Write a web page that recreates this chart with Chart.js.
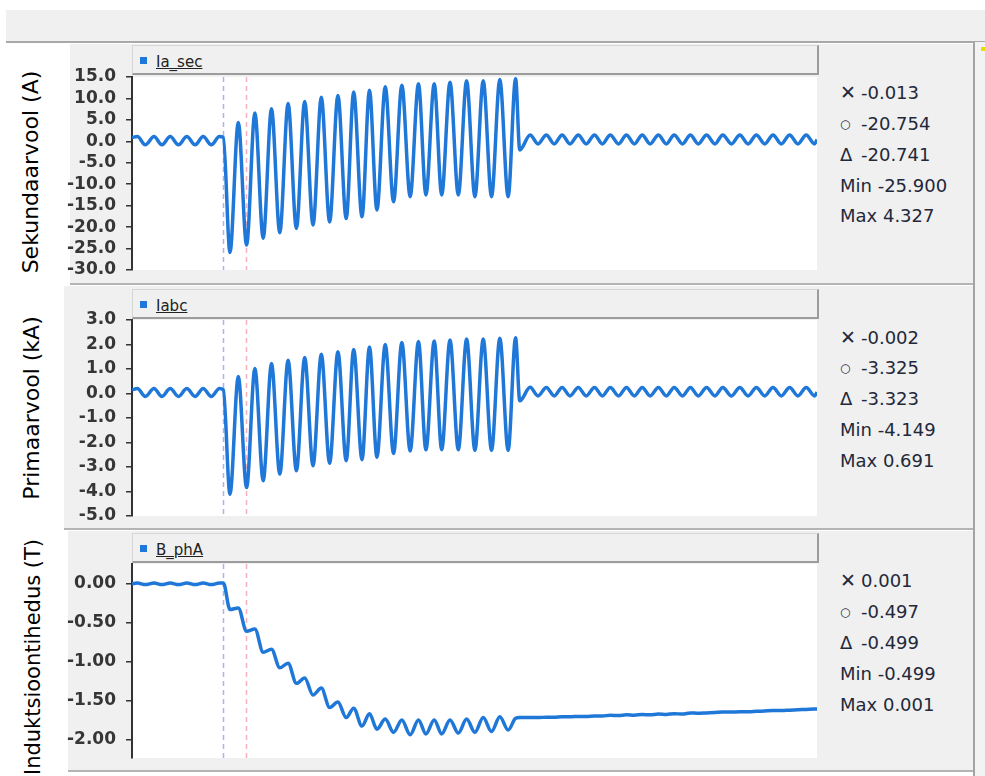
<!DOCTYPE html>
<html>
<head>
<meta charset="utf-8">
<script src="https://cdn.jsdelivr.net/npm/chart.js@4.4.1/dist/chart.umd.min.js"></script>
<style>
  html, body { margin: 0; padding: 0; }
  body { width: 985px; height: 776px; position: relative; overflow: hidden; background: #fff; font-family: "DejaVu Sans", Verdana, sans-serif; }
  .abs { position: absolute; }
  #topbar { left: 6px; top: 10px; width: 979px; height: 31px; background: #f0f0f0; border-bottom: 2px solid #a9a9a9; }
  .panel { position: absolute; background: #f0f0f0; border-bottom: 2px solid #b4b4b4; }
  .hdr { position: absolute; background: #f0f0f0; border-top: 1px solid #d6d6d6; border-left: 1px solid #d6d6d6; border-right: 2px solid #9c9c9c; border-bottom: 2px solid #9c9c9c; box-sizing: border-box; }
  .sq { position: absolute; width: 7px; height: 7px; background: #1e78dc; }
  .lbl { position: absolute; font-size: 15px; color: #222; text-decoration: underline; white-space: nowrap; line-height: 18px; }
  .ytitle { position: absolute; font-size: 22px; color: #000; white-space: nowrap; transform: translate(-50%, -50%) rotate(-90deg); }
  .stat { position: absolute; font-size: 18px; color: #23283a; white-space: nowrap; line-height: 20px; height: 20px; }
  .sym { display: inline-block; width: 21px; }
  canvas { position: absolute; }
</style>
</head>
<body>
<div id="topbar" class="abs"></div>
<div class="abs" style="left:973px;top:42px;width:2px;height:734px;background:#a4a4a4;"></div>
<div class="abs" style="left:975px;top:42px;width:10px;height:734px;background:#f3f3f3;"></div>
<div class="abs" style="left:981px;top:47px;width:4px;height:4px;background:#e8dc00;"></div>

<div class="panel" style="left:70px;top:44px;width:903px;height:239px;"></div>
<div class="panel" style="left:64px;top:286px;width:909px;height:242px;"></div>
<div class="panel" style="left:68px;top:531px;width:905px;height:239px;"></div>

<div class="hdr" style="left:132px;top:45px;width:687px;height:30px;"></div>
<div class="sq" style="left:140px;top:57px;"></div>
<div class="lbl" style="left:156px;top:53px;" id="name1"></div>

<div class="hdr" style="left:132px;top:289px;width:687px;height:30px;"></div>
<div class="sq" style="left:140px;top:301px;"></div>
<div class="lbl" style="left:156px;top:297px;" id="name2"></div>

<div class="hdr" style="left:132px;top:533px;width:687px;height:30px;"></div>
<div class="sq" style="left:140px;top:545px;"></div>
<div class="lbl" style="left:156px;top:541px;" id="name3"></div>

<div class="ytitle" style="left:30px;top:172px;" id="t1"></div>
<div class="ytitle" style="left:31px;top:408px;" id="t2"></div>
<div class="ytitle" style="left:33px;top:657px;font-size:21px;" id="t3"></div>

<canvas id="c1" width="752" height="237" style="left:66px;top:55px;"></canvas>
<canvas id="c2" width="752" height="240" style="left:66px;top:298px;"></canvas>
<canvas id="c3" width="752" height="238" style="left:66px;top:542px;"></canvas>

<div id="stats"></div>

<script>
// ---------- data ----------
const panelNames = ['Ia_sec', 'Iabc', 'B_phA'];
const axisTitles = ['Sekundaarvool (A)', 'Primaarvool (kA)', 'Induktsioontihedus (T)'];

// time (ms) of each sample (extremes of the 50 Hz waveform)
const timeMs = [0, 6.5, 16, 26.5, 36, 46, 56, 66, 76, 85.7, 95.5, 105.3, 110,
  118, 128, 138, 148, 158, 168, 178, 188, 198, 208, 218, 228, 238, 248, 258, 267, 277, 286, 295, 305,
  315, 325, 335, 345, 354, 364, 373, 383, 393, 403, 413, 423, 433, 443, 453, 462,
  467,
  479.5, 489, 499, 508.5, 518, 527.5, 537.5, 547, 557, 566.5, 576, 586, 595.5, 605, 614.5, 624,
  634, 643.5, 653, 663, 672.5, 682, 692, 702, 711.5, 722, 732, 742, 752, 762, 772, 782, 792, 802, 812, 822, 825];

const iaSec = [0.9, 1.1, -0.8, 1.1, -0.8, 1.1, -0.8, 1.1, -0.8, 1.1, -0.8, 1.1, 0.9,
  -25.9, 4.4, -24.2, 6.6, -22.6, 7.6, -21.3, 8.8, -20.3, 9.3, -19.5, 10.3, -18.8, 10.7, -18.0, 11.5, -17.6, 11.9, -16.0, 12.7,
  -14.1, 13.1, -12.9, 13.4, -12.5, 13.4, -12.5, 13.8, -12.5, 14.1, -12.9, 14.1, -12.9, 14.4, -12.9, 14.6,
  -2.0,
  1.5, -0.6, 1.5, -0.6, 1.5, -0.6, 1.5, -0.6, 1.5, -0.6, 1.5, -0.6, 1.5, -0.6, 1.5, -0.6,
  1.5, -0.6, 1.5, -0.6, 1.5, -0.6, 1.5, -0.6, 1.5, -0.6, 1.5, -0.6, 1.5, -0.6, 1.5, -0.6, 1.5, -0.6, 1.5, -0.6, 0.4];

const iabc = [0.15, 0.2, -0.12, 0.2, -0.12, 0.2, -0.12, 0.2, -0.12, 0.2, -0.12, 0.2, 0.15,
  -4.11, 0.69, -3.84, 1.02, -3.56, 1.22, -3.29, 1.36, -3.15, 1.47, -2.95, 1.6, -2.85, 1.7, -2.74, 1.8, -2.7, 1.9, -2.6, 2.0,
  -2.45, 2.08, -2.35, 2.12, -2.3, 2.14, -2.3, 2.18, -2.3, 2.22, -2.32, 2.22, -2.32, 2.26, -2.32, 2.28,
  -0.3,
  0.25, -0.1, 0.25, -0.1, 0.25, -0.1, 0.25, -0.1, 0.25, -0.1, 0.25, -0.1, 0.25, -0.1, 0.25, -0.1,
  0.25, -0.1, 0.25, -0.1, 0.25, -0.1, 0.25, -0.1, 0.25, -0.1, 0.25, -0.1, 0.25, -0.1, 0.25, -0.1, 0.25, -0.1, 0.25, -0.1, 0.05];

const bPhA = [0.0, 0.01, -0.01, 0.01, -0.01, 0.01, -0.01, 0.01, -0.01, 0.01, -0.01, 0.01, 0.01,
  -0.33, -0.31, -0.61, -0.58, -0.88, -0.84, -1.08, -1.02, -1.28, -1.21, -1.43, -1.34, -1.59, -1.52, -1.72, -1.60, -1.83, -1.67, -1.87, -1.74,
  -1.91, -1.75, -1.94, -1.75, -1.93, -1.75, -1.93, -1.75, -1.92, -1.74, -1.91, -1.72, -1.90, -1.71, -1.88, -1.73,
  -1.72,
  -1.72, -1.72, -1.715, -1.715, -1.71, -1.71, -1.705, -1.705, -1.70, -1.70, -1.69, -1.695, -1.685, -1.69, -1.68, -1.685,
  -1.675, -1.68, -1.67, -1.675, -1.66, -1.665, -1.66, -1.655, -1.65, -1.65, -1.645, -1.645, -1.64, -1.635, -1.63, -1.63, -1.625, -1.62, -1.615, -1.61, -1.61];

// y-axis ticks
const ticksSec = [15, 10, 5, 0, -5, -10, -15, -20, -25, -30];
const ticksPrim = [3, 2, 1, 0, -1, -2, -3, -4, -5];
const ticksB = [0, -0.5, -1.0, -1.5, -2.0];

// cursor positions (ms)
const cursorTimes = [110, 137.5];

// cursor readouts
const statsSec = ['-0.013', '-20.754', '-20.741', '-25.900', '4.327'];
const statsPrim = ['-0.002', '-3.325', '-3.323', '-4.149', '0.691'];
const statsB = ['0.001', '-0.497', '-0.499', '-0.499', '0.001'];

// ---------- text ----------
['name1', 'name2', 'name3'].forEach((id, i) => document.getElementById(id).textContent = panelNames[i]);
['t1', 't2', 't3'].forEach((id, i) => document.getElementById(id).textContent = axisTitles[i]);

const statBox = document.getElementById('stats');
function addStats(vals, centers) {
  const syms = ['✕', '○', 'Δ'];
  vals.forEach((v, i) => {
    const d = document.createElement('div');
    d.className = 'stat';
    d.style.left = '840px';
    d.style.top = (centers[i] - 10) + 'px';
    if (i < 3) {
      const s = document.createElement('span');
      s.className = 'sym';
      s.textContent = syms[i];
      if (i === 0) { s.style.fontSize = '19px'; }
      if (i === 1) { s.style.fontSize = '12px'; s.style.fontWeight = 'bold'; s.style.verticalAlign = '2px'; }
      d.appendChild(s);
      d.appendChild(document.createTextNode(v));
    } else {
      d.textContent = (i === 3 ? 'Min ' : 'Max ') + v;
    }
    statBox.appendChild(d);
  });
}
addStats(statsSec, [92, 124, 155, 186, 216]);
addStats(statsPrim, [337, 368, 399, 430, 461]);
addStats(statsB, [580, 612, 643, 674, 705]);

// ---------- charts ----------
const LINE = '#1f77d8';

const bgPlugin = {
  id: 'plotbg',
  beforeDraw(chart) {
    const a = chart.chartArea, c = chart.ctx;
    c.save(); c.fillStyle = '#ffffff';
    c.fillRect(a.left, a.top, a.right - a.left, a.bottom - a.top);
    c.restore();
  }
};
const cursorPlugin = {
  id: 'cursors',
  beforeDatasetsDraw(chart) {
    const a = chart.chartArea, c = chart.ctx, xs = chart.scales.x;
    const cols = ['#aab3f2', '#f5b1bb'];
    c.save();
    c.lineWidth = 1.5;
    c.setLineDash([5, 4]);
    cursorTimes.forEach((t, i) => {
      const px = Math.round(xs.getPixelForValue(t)) + 0.5;
      c.strokeStyle = cols[i];
      c.beginPath(); c.moveTo(px, a.top); c.lineTo(px, a.bottom); c.stroke();
    });
    c.restore();
  }
};

function buildPanel(id, values, yMin, yMax, tickVals, decimals) {
  return new Chart(document.getElementById(id), {
    type: 'line',
    data: {
      datasets: [{
        data: timeMs.map((t, i) => ({ x: t, y: values[i] })),
        borderColor: LINE, borderWidth: 3.5, pointRadius: 0,
        cubicInterpolationMode: 'monotone', fill: false
      }]
    },
    options: {
      responsive: false, animation: false, devicePixelRatio: 1,
      layout: { padding: { top: 22, bottom: 22, left: 0, right: 1 } },
      plugins: { legend: { display: false }, tooltip: { enabled: false } },
      scales: {
        x: { type: 'linear', min: 0, max: 825, display: false },
        y: {
          min: yMin, max: yMax,
          afterFit: s => { s.width = 66; },
          afterBuildTicks: s => { s.ticks = tickVals.map(v => ({ value: v })); },
          ticks: {
            callback: v => Number(v).toFixed(decimals),
            font: { family: 'DejaVu Sans', size: 17, weight: 'bold' },
            color: '#363636', padding: 10, autoSkip: false
          },
          grid: { drawOnChartArea: false, drawTicks: true, tickLength: 6, color: '#333', lineWidth: 1.5 },
          border: { display: true, color: '#333', width: 2 }
        }
      }
    },
    plugins: [bgPlugin, cursorPlugin]
  });
}

buildPanel('c1', iaSec, -30, 15, ticksSec, 1);
buildPanel('c2', iabc, -5, 3, ticksPrim, 1);
buildPanel('c3', bPhA, -2.24, 0.255, ticksB, 2);
</script>
</body>
</html>
